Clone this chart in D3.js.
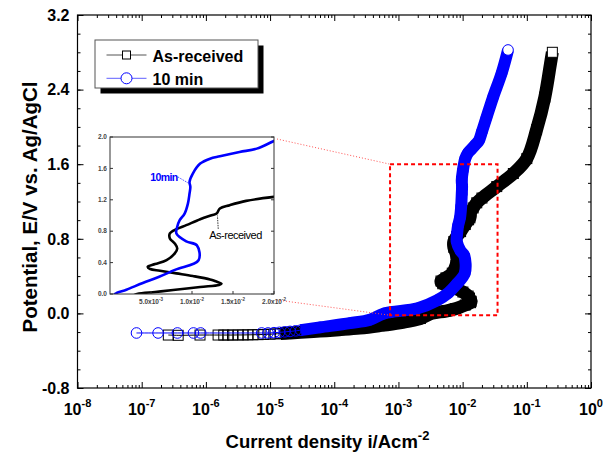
<!DOCTYPE html>
<html>
<head>
<meta charset="utf-8">
<script src="https://cdn.jsdelivr.net/npm/d3@7"></script>
<style>
    body { margin: 0; background: #fff; }
    text { font-family: Arial, "Liberation Sans", sans-serif; }
</style>
</head>
<body>
<div id="my_dataviz"></div>
<script>

    // As-received: current density (A/cm2) and potential (V vs Ag/AgCl)
    var recvCurrent = [2.6e-7, 3.7e-7, 8.1e-7, 1.55e-6, 1.9e-6, 2.2e-6, 2.6e-6, 3.2e-6, 3.8e-6, 4.5e-6,
        5.4e-6, 6.5e-6, 8.0e-6, 1.0e-5, 1.2e-5, 1.45e-5, 2.0e-5, 3.0e-5, 6.0e-5, 1.2e-4,
        2.5e-4, 5.0e-4, 1.05e-3, 2.2e-3, 3.3e-3, 5.5e-3, 7.7e-3, 0.011, 0.0133, 0.0136,
        0.0128, 0.0122, 0.0101, 0.0081, 0.0061, 0.0049, 0.0046, 0.0055, 0.0069, 0.0079,
        0.0082, 0.0079, 0.0073, 0.0073, 0.0081, 0.0093, 0.011, 0.0124, 0.013, 0.0134,
        0.0146, 0.0166, 0.02, 0.034, 0.0617, 0.1, 0.142, 0.191, 0.234, 0.25];
    var recvPotential = [-0.232, -0.235, -0.232, -0.232, -0.232, -0.232, -0.232, -0.231, -0.231, -0.23,
        -0.229, -0.228, -0.226, -0.223, -0.22, -0.216, -0.21, -0.203, -0.19, -0.175,
        -0.157, -0.132, -0.10, -0.055, 0.0, 0.025, 0.05, 0.09, 0.115, 0.13,
        0.165, 0.186, 0.229, 0.263, 0.297, 0.318, 0.347, 0.381, 0.432, 0.517,
        0.58, 0.644, 0.708, 0.771, 0.826, 0.877, 0.953, 1.004, 1.025, 1.089,
        1.131, 1.186, 1.237, 1.36, 1.50, 1.66, 1.97, 2.32, 2.68, 2.80];

    // 10 min
    var minCurrent = [8.3e-8, 1.8e-7, 3.6e-7, 6.4e-7, 8.3e-7, 7.4e-6, 9.3e-6, 1.15e-5, 1.4e-5, 1.7e-5,
        2.05e-5, 2.5e-5, 3.0e-5, 6.0e-5, 1.75e-4, 3.6e-4, 6.0e-4, 0.002, 0.004, 0.006,
        0.008, 0.0108, 0.0106, 0.0093, 0.0081, 0.0082, 0.0085, 0.0091, 0.0095, 0.0097,
        0.0098, 0.0097, 0.0101, 0.011, 0.0122, 0.0134, 0.0158, 0.0179, 0.02, 0.0235,
        0.030, 0.0405, 0.051];
    var minPotential = [-0.21, -0.21, -0.21, -0.21, -0.21, -0.21, -0.21, -0.207, -0.203, -0.198,
        -0.193, -0.187, -0.18, -0.15, -0.105, -0.068, 0.0, 0.055, 0.14, 0.22,
        0.31, 0.43, 0.62, 0.67, 0.77, 0.856, 0.941, 1.025, 1.152, 1.28,
        1.364, 1.428, 1.534, 1.661, 1.724, 1.754, 1.809, 1.852, 1.949, 2.1,
        2.324, 2.575, 2.825];

    var seriesNames = ["As-received", "10 min"];
    var xExponents = [-8, -7, -6, -5, -4, -3, -2, -1, 0];
    var yTicks = [-0.8, 0.0, 0.8, 1.6, 2.4, 3.2];
    var insetXTicks = [0.005, 0.01, 0.015, 0.02];
    var insetXLabels = ["5.0x10", "1.0x10", "1.5x10", "2.0x10"];
    var insetXExps = ["-3", "-2", "-2", "-2"];
    var insetYTicks = [0.0, 0.4, 0.8, 1.2, 1.6, 2.0];
    var zoomBoxCurrent = [7.4e-4, 0.035];
    var zoomBoxPotential = [-0.02, 1.6];

    var recv = recvCurrent.map(function (c, i) { return [c, recvPotential[i]]; });
    var mins = minCurrent.map(function (c, i) { return [c, minPotential[i]]; });

    var margin = { top: 15, right: 12, bottom: 66, left: 77.5 },
        width = 603 - margin.left - margin.right,
        height = 454 - margin.top - margin.bottom;

    var svg = d3.select("#my_dataviz")
        .append("svg")
        .attr("width", 603)
        .attr("height", 454)
        .append("g")
        .attr("transform", "translate(" + margin.left + "," + margin.top + ")");

    var x = d3.scaleLog().domain([1e-8, 1]).range([0, width]);
    var y = d3.scaleLinear().domain([-0.8, 3.2]).range([height, 0]);

    // minor ticks
    var xMinor = [];
    xExponents.slice(0, -1).forEach(function (e) {
        for (var k = 2; k <= 9; k++) xMinor.push(k * Math.pow(10, e));
    });
    var yMinor = d3.range(-0.8, 3.21, 0.2);

    function tickAxis(axis, values, size, tr) {
        var g = svg.append("g").attr("transform", tr || null)
            .call(axis.tickValues(values).tickSize(size).tickSizeOuter(0).tickFormat(""));
        g.select(".domain").remove();
        g.selectAll("line").attr("stroke", "#000");
        return g;
    }
    tickAxis(d3.axisBottom(x), xMinor, -3, "translate(0," + height + ")");
    tickAxis(d3.axisBottom(x), xExponents.map(function (e) { return Math.pow(10, e); }), -6, "translate(0," + height + ")");
    tickAxis(d3.axisTop(x), xMinor, -3);
    tickAxis(d3.axisTop(x), xExponents.map(function (e) { return Math.pow(10, e); }), -6);
    tickAxis(d3.axisLeft(y), yMinor, -3);
    tickAxis(d3.axisLeft(y), yTicks, -6);
    tickAxis(d3.axisRight(y), yMinor, -3, "translate(" + width + ",0)");
    tickAxis(d3.axisRight(y), yTicks, -6, "translate(" + width + ",0)");

    svg.append("rect").attr("width", width).attr("height", height)
        .attr("fill", "none").attr("stroke", "#000").attr("stroke-width", 1.2);

    // y tick labels
    svg.selectAll(".ylab").data(yTicks).enter().append("text")
        .attr("x", -8).attr("y", function (d) { return y(d); }).attr("dy", "0.36em")
        .attr("text-anchor", "end").style("font-size", "16px").style("font-weight", "bold")
        .text(function (d) { return d.toFixed(1); });

    // x tick labels 10^n
    var xl = svg.selectAll(".xlab").data(xExponents).enter().append("text")
        .attr("x", function (d) { return x(Math.pow(10, d)); }).attr("y", height + 27)
        .attr("text-anchor", "middle").style("font-size", "16px").style("font-weight", "bold");
    xl.append("tspan").text("10");
    xl.append("tspan").attr("dy", -8).style("font-size", "11px").text(function (d) { return d; });

    // axis titles
    var xt = svg.append("text").attr("x", 250).attr("y", height + 60)
        .attr("text-anchor", "middle").style("font-size", "18.5px").style("font-weight", "bold");
    xt.append("tspan").text("Current density i/Acm");
    xt.append("tspan").attr("dy", -8).style("font-size", "13px").text("-2");

    svg.append("text").attr("transform", "translate(" + (37 - margin.left) + "," + (207 - margin.top) + ") rotate(-90)")
        .attr("text-anchor", "middle").style("font-size", "20.5px").style("font-weight", "bold")
        .text("Potential, E/V vs. Ag/AgCl");

    // clip to plot area
    svg.append("clipPath").attr("id", "plotclip").append("rect").attr("width", width).attr("height", height);
    var plot = svg.append("g").attr("clip-path", "url(#plotclip)");

    var line = d3.line().x(function (d) { return x(d[0]); }).y(function (d) { return y(d[1]); })
        .curve(d3.curveCatmullRom.alpha(0.5));

    function drawSeries(data, color, bandFrom, bandWidth, shape) {
        plot.append("path").datum(data).attr("d", line)
            .attr("fill", "none").attr("stroke", color).attr("stroke-width", 1);
        plot.append("path").datum(data.filter(function (d) { return d[0] >= bandFrom; })).attr("d", line)
            .attr("fill", "none").attr("stroke", color).attr("stroke-width", bandWidth)
            .attr("stroke-linejoin", "round");
        var m;
        if (shape === "square") {
            m = plot.selectAll(null).data(data).enter().append("rect")
                .attr("x", function (d) { return x(d[0]) - 5; }).attr("y", function (d) { return y(d[1]) - 5; })
                .attr("width", 10).attr("height", 10);
        } else {
            m = plot.selectAll(null).data(data).enter().append("circle")
                .attr("cx", function (d) { return x(d[0]); }).attr("cy", function (d) { return y(d[1]); })
                .attr("r", 5.3);
        }
        m.attr("fill", function (d, i) { return i === data.length - 1 ? "#fff" : "none"; })
            .attr("stroke", color).attr("stroke-width", 1);
    }
    drawSeries(recv, "#000", 1.45e-5, 13, "square");
    drawSeries(mins, "#0000ff", 3.0e-5, 12, "circle");

    // red dashed zoom box
    svg.append("rect")
        .attr("x", x(zoomBoxCurrent[0])).attr("y", y(zoomBoxPotential[1]))
        .attr("width", x(zoomBoxCurrent[1]) - x(zoomBoxCurrent[0]))
        .attr("height", y(zoomBoxPotential[0]) - y(zoomBoxPotential[1]))
        .attr("fill", "none").attr("stroke", "#ff0000").attr("stroke-width", 2)
        .attr("stroke-dasharray", "4,3");

    // inset
    var ix = d3.scaleLinear().domain([0, 0.02]).range([110 - margin.left, 274 - margin.left]);
    var iy = d3.scaleLinear().domain([0, 2.0]).range([294 - margin.top, 137 - margin.top]);

    // dotted connectors from inset to box
    svg.append("line").attr("x1", ix.range()[1] + 3).attr("y1", iy.range()[1] + 2)
        .attr("x2", x(zoomBoxCurrent[0])).attr("y2", y(zoomBoxPotential[1]))
        .attr("stroke", "#ff5050").attr("stroke-width", 1).attr("stroke-dasharray", "1,2");
    svg.append("line").attr("x1", ix.range()[1] + 3).attr("y1", iy.range()[0] + 6)
        .attr("x2", x(zoomBoxCurrent[0])).attr("y2", y(zoomBoxPotential[0]))
        .attr("stroke", "#ff5050").attr("stroke-width", 1).attr("stroke-dasharray", "1,2");

    var inset = svg.append("g");
    inset.append("rect").attr("x", ix.range()[0]).attr("y", iy.range()[1])
        .attr("width", ix.range()[1] - ix.range()[0]).attr("height", iy.range()[0] - iy.range()[1])
        .attr("fill", "#fff");
    inset.append("clipPath").attr("id", "insetclip").append("rect")
        .attr("x", ix.range()[0]).attr("y", iy.range()[1])
        .attr("width", ix.range()[1] - ix.range()[0]).attr("height", iy.range()[0] - iy.range()[1]);
    var iline = d3.line().x(function (d) { return ix(d[0]); }).y(function (d) { return iy(d[1]); })
        .curve(d3.curveCatmullRom.alpha(0.5));
    var ip = inset.append("g").attr("clip-path", "url(#insetclip)");
    ip.append("path").datum(recv).attr("d", iline).attr("fill", "none")
        .attr("stroke", "#000").attr("stroke-width", 2.6).attr("stroke-linejoin", "round");
    ip.append("path").datum(mins).attr("d", iline).attr("fill", "none")
        .attr("stroke", "#0000ff").attr("stroke-width", 2.6).attr("stroke-linejoin", "round");

    inset.selectAll(null).data(insetYTicks).enter().append("line")
        .attr("x1", ix.range()[0]).attr("x2", ix.range()[0] + 3)
        .attr("y1", function (d) { return iy(d); }).attr("y2", function (d) { return iy(d); })
        .attr("stroke", "#333");
    inset.selectAll(null).data(insetYTicks).enter().append("line")
        .attr("x1", ix.range()[1]).attr("x2", ix.range()[1] - 3)
        .attr("y1", function (d) { return iy(d); }).attr("y2", function (d) { return iy(d); })
        .attr("stroke", "#333");
    inset.selectAll(null).data(insetXTicks).enter().append("line")
        .attr("x1", function (d) { return ix(d); }).attr("x2", function (d) { return ix(d); })
        .attr("y1", iy.range()[0]).attr("y2", iy.range()[0] - 3)
        .attr("stroke", "#333");
    inset.append("rect").attr("x", ix.range()[0]).attr("y", iy.range()[1])
        .attr("width", ix.range()[1] - ix.range()[0]).attr("height", iy.range()[0] - iy.range()[1])
        .attr("fill", "none").attr("stroke", "#333").attr("stroke-width", 1);

    inset.selectAll(null).data(insetYTicks).enter().append("text")
        .attr("x", ix.range()[0] - 3).attr("y", function (d) { return iy(d); }).attr("dy", "0.35em")
        .attr("text-anchor", "end").style("font-size", "6.5px").style("font-weight", "bold").attr("fill", "#444")
        .text(function (d) { return d.toFixed(1); });
    var ixl = inset.selectAll(null).data(insetXTicks).enter().append("text")
        .attr("x", function (d) { return ix(d); }).attr("y", iy.range()[0] + 10)
        .attr("text-anchor", "middle").style("font-size", "6.5px").style("font-weight", "bold").attr("fill", "#444");
    ixl.append("tspan").text(function (d, i) { return insetXLabels[i]; });
    ixl.append("tspan").attr("dy", -3).style("font-size", "4.5px").text(function (d, i) { return insetXExps[i]; });

    // inset annotations
    inset.append("text").attr("x", ix(0.0049)).attr("y", iy(1.44)).attr("fill", "#0000ff")
        .style("font-size", "10.5px").style("font-weight", "bold").style("letter-spacing", "-0.6px").text("10min");
    inset.append("line").attr("x1", ix(0.0083)).attr("y1", iy(1.49)).attr("x2", ix(0.0096)).attr("y2", iy(1.41))
        .attr("stroke", "#0000ff").attr("stroke-width", 0.8).attr("stroke-dasharray", "1,1");
    inset.append("text").attr("x", ix(0.0121)).attr("y", iy(0.7)).attr("fill", "#000")
        .style("font-size", "11px").style("letter-spacing", "-0.5px").text("As-received");
    inset.append("line").attr("x1", ix(0.0132)).attr("y1", iy(0.83)).attr("x2", ix(0.0131)).attr("y2", iy(1.0))
        .attr("stroke", "#000").attr("stroke-width", 0.8).attr("stroke-dasharray", "1.5,1");

    // legend
    var lg = svg.append("g").attr("transform", "translate(" + (95 - margin.left) + "," + (40 - margin.top) + ")");
    lg.append("rect").attr("x", 5.5).attr("y", 5.5).attr("width", 163).attr("height", 48).attr("fill", "#000");
    lg.append("rect").attr("width", 163).attr("height", 48).attr("fill", "#fff")
        .attr("stroke", "#555").attr("stroke-width", 1);
    var colors = ["#000", "#0000ff"];
    seriesNames.forEach(function (name, i) {
        var cy = 15 + i * 23.3;
        lg.append("line").attr("x1", 11.5).attr("x2", 51.5).attr("y1", cy).attr("y2", cy)
            .attr("stroke", i === 0 ? "#555" : "#6060ff").attr("stroke-width", 1);
        if (i === 0) {
            lg.append("rect").attr("x", 27.5).attr("y", cy - 4).attr("width", 8).attr("height", 8)
                .attr("fill", "#fff").attr("stroke", colors[i]);
        } else {
            lg.append("circle").attr("cx", 31.5).attr("cy", cy).attr("r", 5.5)
                .attr("fill", "#fff").attr("stroke", colors[i]);
        }
        lg.append("text").attr("x", 57.5).attr("y", cy + 6.5)
            .style("font-size", "16px").style("font-weight", "bold").text(name);
    });

</script>
</body>
</html>
